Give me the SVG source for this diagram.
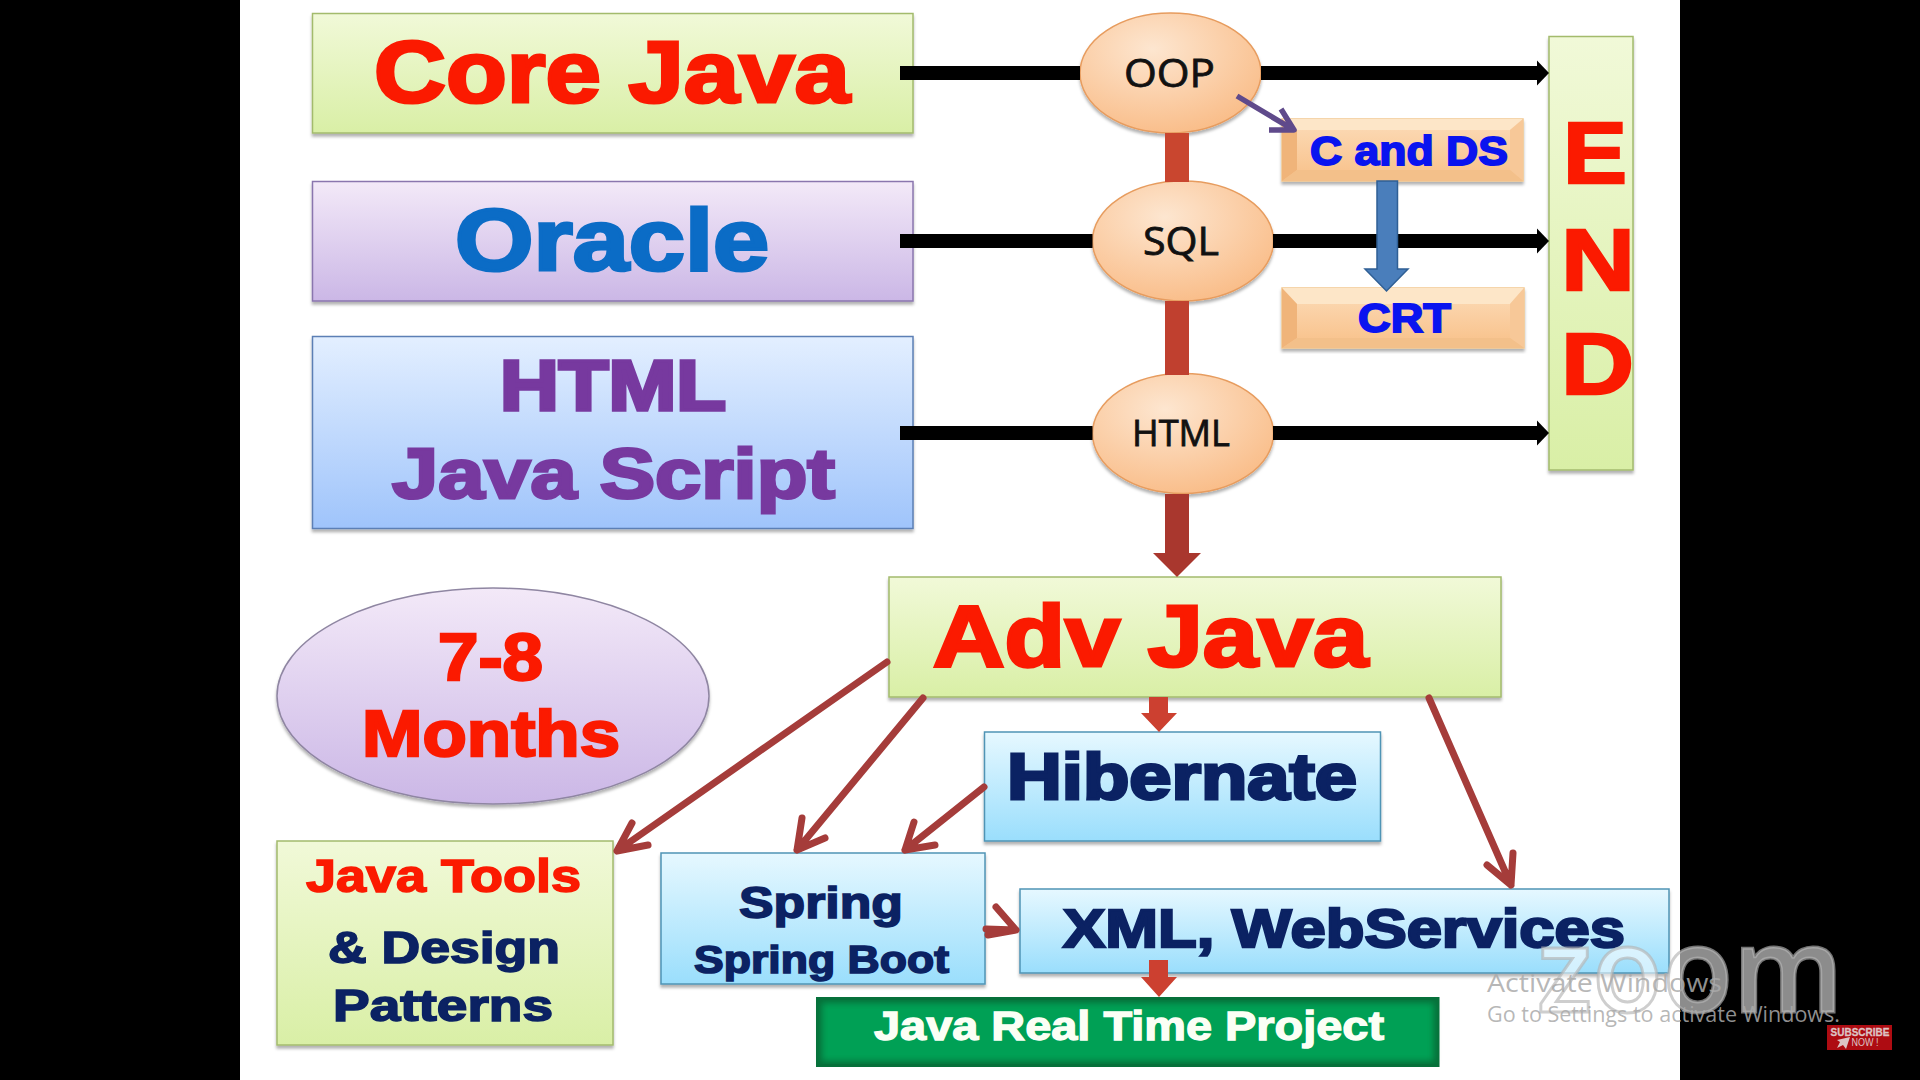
<svg xmlns="http://www.w3.org/2000/svg" width="1920" height="1080" viewBox="0 0 1920 1080">
<defs>
<linearGradient id="gLime" x1="0" y1="0" x2="0" y2="1"><stop offset="0" stop-color="#f1f9d8"/><stop offset="1" stop-color="#d9efa6"/></linearGradient>
<linearGradient id="gPurple" x1="0" y1="0" x2="0" y2="1"><stop offset="0" stop-color="#f3e9f8"/><stop offset="1" stop-color="#cbb7e6"/></linearGradient>
<linearGradient id="gBlue" x1="0" y1="0" x2="0" y2="1"><stop offset="0" stop-color="#e3efff"/><stop offset="1" stop-color="#9fc4fb"/></linearGradient>
<linearGradient id="gCyan" x1="0" y1="0" x2="0" y2="1"><stop offset="0" stop-color="#e6f8ff"/><stop offset="1" stop-color="#9adefc"/></linearGradient>
<linearGradient id="gPeach" x1="0" y1="0" x2="0" y2="1"><stop offset="0" stop-color="#fcdcb9"/><stop offset="1" stop-color="#f8c088"/></linearGradient>
<radialGradient id="gEll" cx="0.4" cy="0.3" r="0.8"><stop offset="0" stop-color="#fde6d0"/><stop offset="1" stop-color="#f9b982"/></radialGradient>
<filter id="sh" x="-5%" y="-5%" width="110%" height="115%"><feDropShadow dx="0" dy="3" stdDeviation="1.8" flood-color="#000" flood-opacity="0.3"/></filter>
<filter id="soft" x="-2%" y="-5%" width="104%" height="110%"><feGaussianBlur stdDeviation="3"/></filter>
<marker id="blackHead" markerUnits="userSpaceOnUse" markerWidth="14" markerHeight="28" refX="0" refY="14" orient="auto"><path d="M0 1.500 L12 14 L0 26.500Z" fill="#000"/></marker>
</defs>
<style>
.box{stroke-width:1.5;filter:url(#sh)}
.lime{fill:url(#gLime);stroke:#a3bb6c}
.purple{fill:url(#gPurple);stroke:#8a76ae}
.blue{fill:url(#gBlue);stroke:#5b7fb5}
.cyan{fill:url(#gCyan);stroke:#4f94b5}
.ell{fill:url(#gEll);stroke:#e79c5e;stroke-width:1.5;filter:url(#sh)}
.t{font-family:"Liberation Sans",Arial,sans-serif;font-weight:700}
.c{font-family:"Open Sans","Noto Sans",sans-serif;font-weight:400;fill:#111;stroke:#111;stroke-width:.8}
.red{fill:#fb1a00;stroke:#fb1a00}
.navy{fill:#0b2263;stroke:#0b2263}
.violet{fill:#77399f;stroke:#77399f}
.cobalt{fill:#0b6cc6;stroke:#0b6cc6}
.pure{fill:#0a14ef;stroke:#0a14ef}
.black{stroke:#000;stroke-width:14;fill:none;marker-end:url(#blackHead)}
.plain{stroke:#000;stroke-width:14;fill:none}
.open{stroke:#a53c3a;stroke-width:7;fill:none;stroke-linecap:round;stroke-linejoin:round}
.mark{font-family:"Open Sans","Noto Sans",sans-serif;fill:rgba(170,170,170,.85)}
</style>
<rect width="1920" height="1080" fill="#000"/>
<rect x="240" y="0" width="1440" height="1080" fill="#fff"/>

<g id="core-java"><rect class="box lime" x="312.500" y="13.500" width="600.500" height="119.500"/><text class="t red" x="374" y="102" font-size="88" stroke-width="3.200" textLength="476" lengthAdjust="spacingAndGlyphs">Core Java</text></g>
<g id="oracle"><rect class="box purple" x="312.500" y="181.500" width="600.500" height="119.500"/><text class="t cobalt" x="455" y="270" font-size="88" stroke-width="3.200" textLength="314" lengthAdjust="spacingAndGlyphs">Oracle</text></g>
<g id="html-js"><rect class="box blue" x="312.500" y="336.500" width="600.500" height="192"/><text class="t violet" x="500" y="410" font-size="70" stroke-width="3.600" textLength="226" lengthAdjust="spacingAndGlyphs">HTML</text><text class="t violet" x="392" y="498" font-size="70" stroke-width="3" textLength="443" lengthAdjust="spacingAndGlyphs">Java Script</text></g>

<g id="oop"><ellipse class="ell" cx="1170.500" cy="73" rx="90.500" ry="60"/><text class="c" x="1124" y="87" font-size="39" textLength="91" lengthAdjust="spacingAndGlyphs">OOP</text></g>
<g id="sql"><ellipse class="ell" cx="1183" cy="241" rx="90.500" ry="60"/><text class="c" x="1143" y="255" font-size="39" textLength="76" lengthAdjust="spacingAndGlyphs">SQL</text></g>
<g id="html-node"><ellipse class="ell" cx="1183" cy="433.500" rx="90.500" ry="60"/><text class="c" x="1132" y="446" font-size="36" textLength="98" lengthAdjust="spacingAndGlyphs">HTML</text></g>

<g id="c-and-ds"><rect class="box" x="1282" y="119" width="241" height="62" fill="url(#gPeach)" stroke="#f2c890"/><path d="M1282 119H1523L1510 130H1297Z" fill="#fde6c8"/><path d="M1282 119L1297 130V170L1282 181Z" fill="#f0b47a"/><path d="M1523 119L1510 130V170L1523 181Z" fill="#f7c898"/><path d="M1282 181L1297 170H1510L1523 181Z" fill="#f3c08a"/><text class="t pure" x="1310" y="165" font-size="41" stroke-width="1.800" textLength="198" lengthAdjust="spacingAndGlyphs">C and DS</text></g>
<g id="crt"><rect class="box" x="1282" y="288" width="242" height="60" fill="url(#gPeach)" stroke="#f2c890"/><path d="M1282 288H1524L1510 304H1297Z" fill="#fde6c8"/><path d="M1282 288L1297 304V338L1282 348Z" fill="#f0b47a"/><path d="M1524 288L1510 304V338L1524 348Z" fill="#f7c898"/><path d="M1282 348L1297 338H1510L1524 348Z" fill="#f3c08a"/><text class="t pure" x="1358" y="332" font-size="40" stroke-width="1.800" textLength="93" lengthAdjust="spacingAndGlyphs">CRT</text></g>

<g id="end"><rect class="box lime" x="1549" y="36.500" width="84" height="433.500"/><text class="t red" x="1563" y="183" font-size="88" stroke-width="2.500" textLength="64" lengthAdjust="spacingAndGlyphs">E</text><text class="t red" x="1561" y="290" font-size="88" stroke-width="2.500" textLength="74" lengthAdjust="spacingAndGlyphs">N</text><text class="t red" x="1561" y="394" font-size="88" stroke-width="2.500" textLength="73" lengthAdjust="spacingAndGlyphs">D</text></g>

<g id="adv-java"><rect class="box lime" x="889" y="577" width="612" height="120"/><text class="t red" x="933" y="666" font-size="88" stroke-width="3.200" textLength="435" lengthAdjust="spacingAndGlyphs">Adv Java</text></g>
<g id="months"><ellipse cx="493" cy="696" rx="216" ry="108" fill="url(#gPurple)" stroke="#8f86a2" stroke-width="1.500" filter="url(#sh)"/><text class="t red" x="438" y="680" font-size="66" stroke-width="2.400" textLength="105" lengthAdjust="spacingAndGlyphs">7-8</text><text class="t red" x="362" y="756" font-size="64" stroke-width="2.400" textLength="258" lengthAdjust="spacingAndGlyphs">Months</text></g>
<g id="tools"><rect class="box lime" x="277" y="841" width="336" height="204"/><text class="t red" x="306" y="892" font-size="47" stroke-width="1.600" textLength="275" lengthAdjust="spacingAndGlyphs">Java Tools</text><text class="t navy" x="328" y="963" font-size="44" stroke-width="1.600" textLength="232" lengthAdjust="spacingAndGlyphs">&amp; Design</text><text class="t navy" x="333" y="1021" font-size="44" stroke-width="1.600" textLength="220" lengthAdjust="spacingAndGlyphs">Patterns</text></g>
<g id="spring"><rect class="box cyan" x="661" y="853" width="324" height="131"/><text class="t navy" x="739" y="918" font-size="44" stroke-width="1.600" textLength="164" lengthAdjust="spacingAndGlyphs">Spring</text><text class="t navy" x="694" y="973" font-size="39" stroke-width="1.600" textLength="255" lengthAdjust="spacingAndGlyphs">Spring Boot</text></g>
<g id="hibernate"><rect class="box cyan" x="984.500" y="732" width="396" height="109"/><text class="t navy" x="1007" y="799" font-size="64" stroke-width="3" textLength="350" lengthAdjust="spacingAndGlyphs">Hibernate</text></g>
<g id="xml"><rect class="box cyan" x="1020" y="889" width="649" height="84"/><text class="t navy" x="1063" y="947" font-size="54" stroke-width="2.400" textLength="562" lengthAdjust="spacingAndGlyphs">XML, WebServices</text></g>
<g id="project"><rect x="816" y="997" width="623.500" height="70" fill="#06703a"/><rect x="822" y="1003" width="611.500" height="58" fill="#00a055" filter="url(#soft)"/><text class="t" x="874" y="1040" font-size="40" fill="#fbfff5" stroke="#fbfff5" stroke-width="1.300" textLength="510" lengthAdjust="spacingAndGlyphs">Java Real Time Project</text></g>

<g id="connectors">
<line class="plain" x1="900" y1="73" x2="1080" y2="73"/>
<line class="black" x1="1261" y1="73" x2="1537" y2="73"/>
<line class="plain" x1="900" y1="241" x2="1092.500" y2="241"/>
<line class="black" x1="1273" y1="241" x2="1537" y2="241"/>
<line class="plain" x1="900" y1="433" x2="1092.500" y2="433"/>
<line class="black" x1="1273" y1="433" x2="1537" y2="433"/>
<rect x="1165" y="133" width="24" height="49" fill="#c9462f"/>
<rect x="1165" y="301" width="24" height="74" fill="#c0402f"/>
<path d="M1165 494H1189V553H1201L1177 577L1153 553H1165Z" fill="#a9372e"/>
<path d="M1377 181H1397.500V269H1408L1386.500 291L1365 269H1377Z" fill="#4a7ebb" stroke="#2f5f95" stroke-width="1.500"/>
<path d="M1237 96L1294 130M1281 109L1294 130L1269 130" fill="none" stroke="#5f4a8b" stroke-width="5.500" stroke-linejoin="round"/>
<path d="M1149 697H1168V713H1177L1159 732L1141 713H1149Z" fill="#cc4030"/>
<path d="M1149 960H1168V977H1177L1159 997L1141 977H1149Z" fill="#cc4030"/>
<path class="open" d="M887 662L617 851M632 823L617 851L648 845"/>
<path class="open" d="M923 698L797 850M802 818L797 850L825 838"/>
<path class="open" d="M984 787L905 850M914 822L905 850L935 845"/>
<path class="open" d="M1429 698L1511 885M1487 865L1511 885L1513 853"/>
<path class="open" d="M986 929L1016 930M996 907L1016 930L988 935"/>
</g>

<text x="1537" y="1012" font-family="Open Sans,Noto Sans,sans-serif" font-weight="600" font-size="118" fill="rgba(255,255,255,.55)" stroke="rgba(180,180,180,.65)" stroke-width="3" textLength="306" lengthAdjust="spacingAndGlyphs">zoom</text>
<text class="mark" x="1487" y="992" font-size="26" textLength="235" lengthAdjust="spacingAndGlyphs">Activate Windows</text>
<text class="mark" x="1487" y="1022" font-size="21" textLength="353" lengthAdjust="spacingAndGlyphs">Go to Settings to activate Windows.</text>
<rect x="1827" y="1025" width="65" height="25" fill="#ae0c12"/>
<text x="1830.500" y="1035.500" font-family="Liberation Sans,sans-serif" font-weight="700" font-size="11" fill="#dcc4c4" stroke="#dcc4c4" stroke-width=".3" textLength="59" lengthAdjust="spacingAndGlyphs">SUBSCRIBE</text>
<path d="M1837 1048L1840 1042L1837 1040L1850 1037L1846 1049L1843 1045Z" fill="#dcc4c4"/>
<text x="1851.500" y="1046" font-family="Liberation Sans,sans-serif" font-size="10.500" fill="#dcc4c4" textLength="27" lengthAdjust="spacingAndGlyphs">NOW !</text>
</svg>
